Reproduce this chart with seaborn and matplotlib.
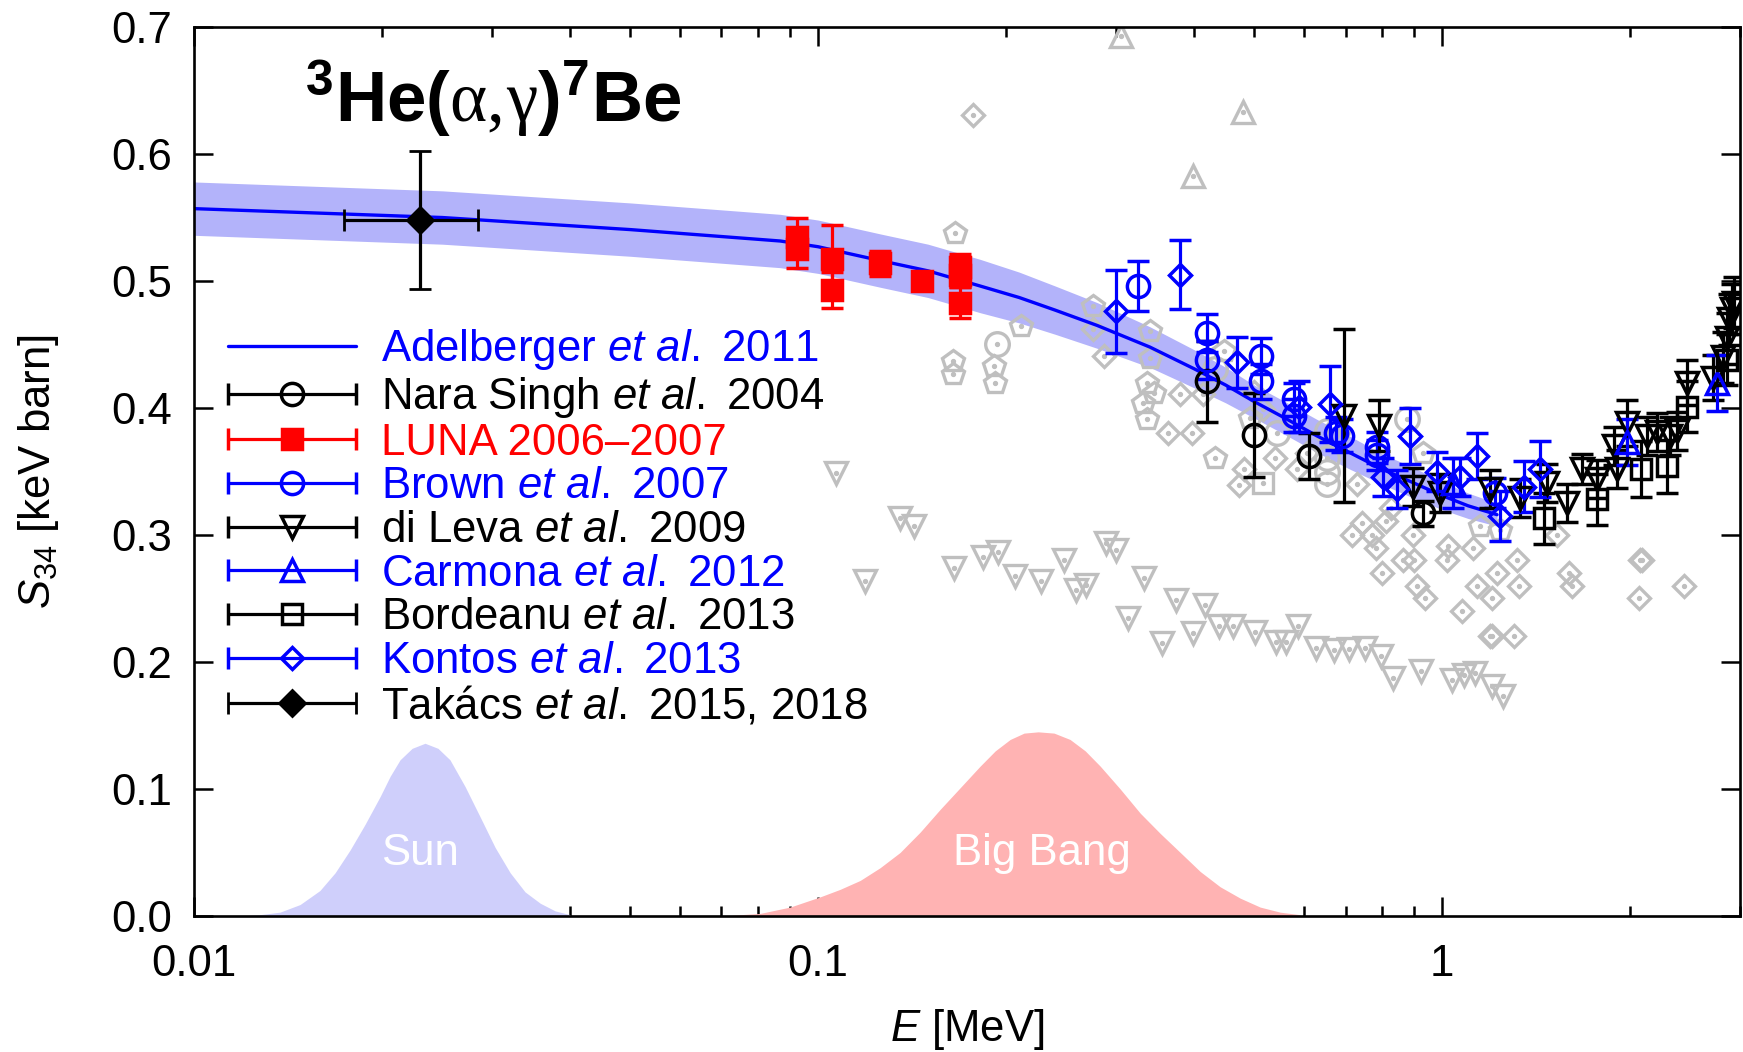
import numpy as np
import matplotlib
matplotlib.use('Agg')
import matplotlib.pyplot as plt
import seaborn as sns
from matplotlib.ticker import FixedLocator, LogLocator, NullFormatter
from matplotlib.container import ErrorbarContainer
from matplotlib.legend_handler import HandlerErrorbar
from matplotlib.lines import Line2D

# Adelberger et al. 2011 fit and its uncertainty band
adel_E = [0.01, 0.025, 0.05, 0.087, 0.1, 0.126, 0.15, 0.182, 0.21, 0.24, 0.28, 0.34, 0.40, 0.45,
          0.50, 0.56, 0.63, 0.71, 0.80, 0.90, 1.0, 1.1, 1.224]
adel_S = [0.557, 0.550, 0.5405, 0.5315, 0.527, 0.516, 0.508, 0.496, 0.487, 0.477, 0.465, 0.448, 0.431,
          0.418, 0.405, 0.392, 0.378, 0.365, 0.352, 0.341, 0.331, 0.323, 0.316]
band_hi = [0.578, 0.571, 0.5615, 0.5525, 0.548, 0.537, 0.529, 0.517, 0.507, 0.496, 0.483, 0.464, 0.446,
           0.432, 0.418, 0.405, 0.391, 0.378, 0.364, 0.353, 0.342, 0.333, 0.325]
band_lo = [0.536, 0.529, 0.5195, 0.5105, 0.506, 0.495, 0.487, 0.475, 0.467, 0.458, 0.447, 0.432, 0.416,
           0.404, 0.392, 0.379, 0.365, 0.352, 0.340, 0.329, 0.320, 0.313, 0.307]

# Gamow windows (arbitrary units)
sun_E = [0.01185, 0.01275, 0.01373, 0.01479, 0.01591, 0.01683, 0.01779, 0.01879, 0.01987, 0.02062,
         0.02139, 0.02236, 0.02345, 0.0246, 0.02571, 0.02718, 0.02874, 0.03037, 0.03211, 0.03391,
         0.03588, 0.0379, 0.04004]
sun_S = [0.000, 0.001, 0.003, 0.009, 0.020, 0.034, 0.052, 0.072, 0.094, 0.110,
         0.123, 0.132, 0.136, 0.132, 0.123, 0.102, 0.078, 0.054, 0.034, 0.019,
         0.010, 0.004, 0.001]
bb_E = [0.07097, 0.07499, 0.08073, 0.09017, 0.1007, 0.1085, 0.1168, 0.1257, 0.1353, 0.1457, 0.1569,
        0.1689, 0.1818, 0.1922, 0.2031, 0.2138, 0.2252, 0.2388, 0.2533, 0.2679, 0.2831, 0.3048,
        0.3281, 0.3533, 0.3804, 0.4095, 0.4407, 0.4747, 0.5108, 0.5500, 0.5920]
bb_S = [0.000, 0.001, 0.002, 0.007, 0.015, 0.021, 0.028, 0.038, 0.050, 0.066, 0.084,
        0.101, 0.118, 0.130, 0.139, 0.144, 0.145, 0.144, 0.139, 0.130, 0.118, 0.100,
        0.081, 0.065, 0.050, 0.035, 0.023, 0.014, 0.007, 0.003, 0.001]

# Nara Singh et al. 2004
nara_E = [0.420, 0.499, 0.611, 0.933]
nara_S = [0.421, 0.379, 0.362, 0.317]
nara_err = [0.032, 0.033, 0.018, 0.010]

# LUNA 2006-2007
luna_E = [0.0925, 0.0925, 0.1051, 0.1051, 0.1256, 0.1466, 0.169, 0.169, 0.169]
luna_S = [0.535, 0.525, 0.517, 0.493, 0.514, 0.500, 0.511, 0.505, 0.483]
luna_err = [0.015, 0.015, 0.027, 0.014, 0.010, 0.006, 0.010, 0.010, 0.012]

# Brown et al. 2007
brown_E = [0.325, 0.420, 0.420, 0.512, 0.512, 0.578, 0.578, 0.675, 0.690, 0.786, 0.786, 1.216]
brown_S = [0.496, 0.459, 0.438, 0.441, 0.421, 0.407, 0.394, 0.380, 0.378, 0.369, 0.363, 0.333]
brown_err = [0.020, 0.015, 0.015, 0.014, 0.014, 0.013, 0.013, 0.013, 0.013, 0.012, 0.012, 0.012]

# di Leva et al. 2009
dileva_E = [0.695, 0.791, 0.897, 0.990, 1.194, 1.334, 1.472, 1.585, 1.675, 1.771, 1.883, 1.906,
            1.98, 2.13, 2.21, 2.32, 2.38, 2.47, 2.72, 2.82, 2.86, 2.88, 2.91, 2.93]
dileva_S = [0.394, 0.386, 0.338, 0.333, 0.336, 0.329, 0.341, 0.325, 0.352, 0.344, 0.370, 0.352,
            0.388, 0.378, 0.381, 0.378, 0.382, 0.420, 0.424, 0.440, 0.455, 0.470, 0.478, 0.483]
dileva_err = [0.068, 0.020, 0.015, 0.015, 0.015, 0.015, 0.015, 0.015, 0.012, 0.015, 0.015, 0.015,
              0.018, 0.015, 0.015, 0.015, 0.015, 0.018, 0.018, 0.020, 0.020, 0.020, 0.020, 0.020]

# Carmona et al. 2012
carmona_E = [1.04, 1.98, 2.756]
carmona_S = [0.341, 0.373, 0.420]
carmona_err = [0.020, 0.018, 0.022]

# Bordeanu et al. 2013
bord_E = [1.453, 1.77, 2.08, 2.29, 2.47, 2.86]
bord_S = [0.313, 0.328, 0.352, 0.354, 0.401, 0.438]
bord_err = [0.020, 0.020, 0.022, 0.021, 0.020, 0.020]

# Kontos et al. 2013
kontos_E = [0.300, 0.380, 0.469, 0.589, 0.662, 0.804, 0.846, 0.889, 0.980, 1.069, 1.137, 1.239, 1.35, 1.435]
kontos_S = [0.476, 0.505, 0.436, 0.401, 0.403, 0.346, 0.336, 0.378, 0.350, 0.346, 0.362, 0.315, 0.338, 0.352]
kontos_err = [0.033, 0.027, 0.020, 0.020, 0.030, 0.015, 0.015, 0.022, 0.015, 0.015, 0.018, 0.020, 0.020, 0.022]

# Takacs et al. 2015, 2018
tak_E = [0.023]
tak_S = [0.548]
tak_xlo = [0.0056]
tak_xhi = [0.0055]
tak_err = [0.054]

# older data (grey)
g_tri_dn_E = [0.1067, 0.1189, 0.1355, 0.1426, 0.165, 0.184, 0.194, 0.207, 0.2276, 0.248, 0.2594, 0.269,
              0.2896, 0.3004, 0.3326, 0.3135, 0.3551, 0.3738, 0.399, 0.417, 0.4386, 0.4618, 0.5003,
              0.542, 0.5625, 0.5875, 0.627, 0.670, 0.710, 0.7526, 0.798, 0.834, 0.923, 1.036, 1.082,
              1.130, 1.201, 1.253]
g_tri_dn_S = [0.349, 0.2635, 0.3135, 0.307, 0.274, 0.283, 0.287, 0.2675, 0.2635, 0.2806, 0.257, 0.261,
              0.2938, 0.2885, 0.266, 0.2347, 0.215, 0.249, 0.2228, 0.245, 0.228, 0.228, 0.224,
              0.216, 0.216, 0.228, 0.211, 0.2097, 0.2102, 0.211, 0.2044, 0.1874, 0.1926, 0.186, 0.19,
              0.191, 0.181, 0.173]
g_tri_up_E = [0.306, 0.480, 0.399]
g_tri_up_S = [0.693, 0.633, 0.583]
g_dia_E = [0.1768, 0.2760, 0.2866, 0.364, 0.380, 0.397, 0.414, 0.4805, 0.472, 0.499, 0.517, 0.540,
           0.585, 0.607, 0.731, 0.745, 0.718, 0.773, 0.782, 0.828, 0.8126, 0.865, 0.800, 0.898,
           0.900, 0.911, 0.939, 1.023, 1.017, 1.075, 1.122, 1.137, 1.201, 1.224, 1.317, 1.325,
           1.194, 1.203, 1.301, 1.527, 1.594, 1.614, 2.076, 2.092, 2.063, 2.436]
g_dia_S = [0.631, 0.462, 0.441, 0.3805, 0.4107, 0.3805, 0.4107, 0.3516, 0.3397, 0.413, 0.399, 0.3608,
           0.3516, 0.3647, 0.340, 0.3095, 0.300, 0.300, 0.290, 0.3214, 0.311, 0.2806, 0.270, 0.300,
           0.2806, 0.2596, 0.2504, 0.291, 0.2806, 0.2398, 0.2898, 0.2596, 0.2504, 0.270, 0.2806, 0.2596,
           0.2202, 0.2202, 0.2202, 0.300, 0.270, 0.2596, 0.2806, 0.2806, 0.2504, 0.2596]
g_pent_E = [0.1656, 0.2113, 0.1644, 0.1644, 0.191, 0.192, 0.2760, 0.340, 0.340, 0.337, 0.345, 0.332,
            0.337, 0.4462, 0.4326, 0.4925, 0.933, 1.151, 1.239]
g_pent_S = [0.538, 0.4645, 0.437, 0.4265, 0.433, 0.420, 0.480, 0.4606, 0.4396, 0.420, 0.412, 0.404,
            0.391, 0.4447, 0.3608, 0.392, 0.3647, 0.307, 0.304]
g_circ_E = [0.1938, 0.4326, 0.543, 0.653, 0.678, 0.653, 0.653, 0.653, 0.878]
g_circ_S = [0.4507, 0.4304, 0.3805, 0.382, 0.382, 0.361, 0.350, 0.340, 0.391]
g_sq_E = [0.517]
g_sq_S = [0.341]

legend_labels = [
    'Adelberger $\\mathit{et\\ al.}$ 2011',
    'Nara Singh $\\mathit{et\\ al.}$ 2004',
    'LUNA 2006\u20132007',
    'Brown $\\mathit{et\\ al.}$ 2007',
    'di Leva $\\mathit{et\\ al.}$ 2009',
    'Carmona $\\mathit{et\\ al.}$ 2012',
    'Bordeanu $\\mathit{et\\ al.}$ 2013',
    'Kontos $\\mathit{et\\ al.}$ 2013',
    'Tak\u00e1cs $\\mathit{et\\ al.}$ 2015, 2018',
]
legend_colors = ['#0000ff', 'black', '#ff0000', '#0000ff', 'black', '#0000ff', 'black', '#0000ff', 'black']

sns.set_style('ticks')
plt.rcParams['font.family'] = ['Liberation Sans', 'DejaVu Sans']
plt.rcParams['mathtext.fontset'] = 'custom'
plt.rcParams['mathtext.rm'] = 'Liberation Sans'
plt.rcParams['mathtext.it'] = 'Liberation Sans:italic'
plt.rcParams['mathtext.bf'] = 'Liberation Sans:bold'
plt.rcParams['mathtext.sf'] = 'Liberation Serif'
for key in ['text.color', 'axes.labelcolor', 'xtick.color', 'ytick.color', 'axes.edgecolor']:
    plt.rcParams[key] = 'black'

FS = 31.5
GREY = '#bfbfbf'
BLUE = '#0000ff'
RED = '#ff0000'

fig = plt.figure(figsize=(17.43, 10.52), dpi=100)
ax = fig.add_axes([0.1113, 0.1293, 0.887, 0.845])
ax.set_xscale('log')

# Gamow peaks
ax.fill_between(sun_E, 0, sun_S, color='#cfcffb', lw=0, zorder=1)
ax.fill_between(bb_E, 0, bb_S, color='#ffb3b3', lw=0, zorder=1)
ax.text(0.023, 0.049, 'Sun', color='white', fontsize=FS, ha='center', va='center', zorder=1.5)
ax.text(0.228, 0.049, 'Big Bang', color='white', fontsize=FS, ha='center', va='center', zorder=1.5)

# band
ax.fill_between(adel_E, band_lo, band_hi, color='#b3b3fa', lw=0, zorder=2)

# grey older data with center dot
for gx, gy, m, ms in [(g_tri_dn_E, g_tri_dn_S, 'v', 16), (g_tri_up_E, g_tri_up_S, '^', 16),
                      (g_dia_E, g_dia_S, 'D', 11), (g_pent_E, g_pent_S, 'p', 16),
                      (g_circ_E, g_circ_S, 'o', 17), (g_sq_E, g_sq_S, 's', 15)]:
    ax.plot(gx, gy, ls='none', marker=m, ms=ms, mfc='none', mec=GREY, mew=2.4, zorder=3)
    ax.plot(gx, gy, ls='none', marker='o', ms=2.8, color=GREY, zorder=3)

sns.lineplot(x=adel_E, y=adel_S, color=BLUE, lw=2.4, ax=ax, zorder=4)

sets = [
    (nara_E, nara_S, nara_err, 'black', 'o', False, 16),
    (luna_E, luna_S, luna_err, RED, 's', True, 14.5),
    (brown_E, brown_S, brown_err, BLUE, 'o', False, 16),
    (dileva_E, dileva_S, dileva_err, 'black', 'v', False, 16),
    (carmona_E, carmona_S, carmona_err, BLUE, '^', False, 16),
    (bord_E, bord_S, bord_err, 'black', 's', False, 14.5),
    (kontos_E, kontos_S, kontos_err, BLUE, 'D', False, 11.5),
]
handles = [Line2D([], [], color=BLUE, lw=2.4)]
for E, S, err, c, m, filled, ms in sets:
    kw = dict(fmt=m, color=c, ms=ms, mfc=c if filled else 'none', mec=c, mew=2.5,
              elinewidth=2.3, capsize=8, capthick=2.3)
    ax.errorbar(E, S, yerr=err, zorder=5, **kw)
    handles.append(ax.errorbar([np.nan], [np.nan], xerr=[1.0], **kw))

kw = dict(fmt='D', color='black', ms=13, mfc='black', mec='black', mew=2,
          elinewidth=2.3, capsize=8, capthick=2.3)
ax.errorbar(tak_E, tak_S, xerr=[tak_xlo, tak_xhi], yerr=tak_err, zorder=6, **kw)
handles.append(ax.errorbar([np.nan], [np.nan], xerr=[1.0], **kw))

leg = ax.legend(handles, legend_labels, loc='upper left', bbox_to_anchor=(0.022, 0.662),
                frameon=False, fontsize=FS, handlelength=2.92, handletextpad=0.57,
                labelspacing=0.06, borderpad=0, borderaxespad=0,
                handler_map={ErrorbarContainer: HandlerErrorbar(xerr_size=1.46)})
for t, c in zip(leg.get_texts(), legend_colors):
    t.set_color(c)

ax.text(0.0715, 0.8935,
        r'${}^{\mathbf{3}}\mathbf{He(}\mathsf{\alpha,\!\gamma}\mathbf{)}{}^{\mathbf{7}}\mathbf{Be}$',
        transform=ax.transAxes, fontsize=51, ha='left', va='baseline')

ax.set_xlim(0.01, 3.0)
ax.set_ylim(0, 0.7)
ax.xaxis.set_major_locator(FixedLocator([0.01, 0.1, 1]))
ax.set_xticklabels(['0.01', '0.1', '1'])
ax.xaxis.set_minor_locator(LogLocator(base=10, subs=np.arange(2, 10)))
ax.xaxis.set_minor_formatter(NullFormatter())
ax.set_yticks(np.arange(0, 0.71, 0.1))
ax.set_yticklabels(['0.0', '0.1', '0.2', '0.3', '0.4', '0.5', '0.6', '0.7'])
ax.tick_params(which='both', direction='in', top=True, right=True, width=1.8, labelsize=FS,
               color='black', labelcolor='black')
ax.tick_params(which='major', length=14)
ax.tick_params(which='minor', length=7)
ax.tick_params(axis='x', which='major', pad=20)
ax.tick_params(axis='y', which='major', pad=16)
for s in ax.spines.values():
    s.set_linewidth(1.9)
    s.set_color('black')
    s.set_zorder(10)

ax.set_xlabel(r'$E$ [MeV]', fontsize=FS, labelpad=16, color='black')
ax.set_ylabel(r'$S_{34}$ [keV barn]', fontsize=FS, labelpad=36, color='black')

fig.savefig('out.png', dpi=100)
